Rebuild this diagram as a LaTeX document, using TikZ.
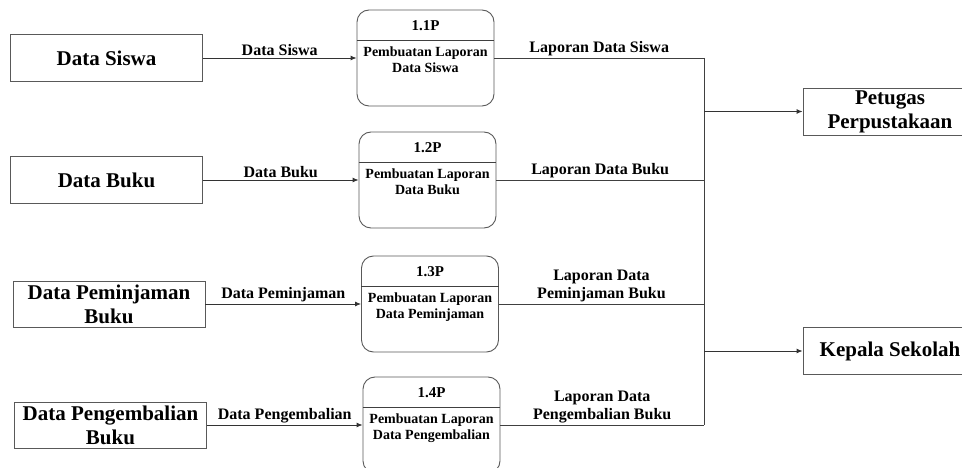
\documentclass[tikz,border=0pt]{standalone}
\usepackage{fontspec}
\setmainfont{Liberation Serif}
\usetikzlibrary{positioning,arrows.meta}

\begin{document}
\begin{tikzpicture}[x=1pt, y=-1pt, line width=0.9pt,
    entitas/.style={draw=black!65, rectangle, align=center, minimum width=192pt, minimum height=47pt, inner sep=2pt, font=\bfseries\fontsize{21}{24}\selectfont},
    proses/.style={draw=black!65, rounded corners=12pt, minimum width=137pt, minimum height=96pt},
    judul/.style={inner sep=1pt, font=\bfseries\fontsize{15}{17}\selectfont},
    isi/.style={align=center, inner sep=1pt, font=\bfseries\fontsize{14}{16}\selectfont},
    ket/.style={align=center, inner sep=2pt, font=\bfseries\fontsize{16}{18}\selectfont},
    alir/.style={draw=black!80, -{Latex[length=6pt,width=5pt]}},
    garis/.style={draw=black!75}]
        \useasboundingbox (0,0) rectangle (962,468);
        \clip (0,0) rectangle (962,468);

        % 1.1P
        \node[entitas] (E1) at (106.5,58) {Data Siswa};
        \node[proses] (P1) at (425.5,58) {};
        \node[judul] (T1) at ([yshift=-16pt]P1.north) {1.1P};
        \coordinate (D1) at ([yshift=-31pt]P1.north);
        \draw[garis] ([yshift=-31pt]P1.north west) -- ([yshift=-31pt]P1.north east);
        \node[isi, below=5pt of D1] (B1) {Pembuatan Laporan\\Data Siswa};
        \draw[alir] (E1) -- node[ket, above] {Data Siswa} (P1);
        \coordinate (J1) at (704,58);
        \draw[garis] (P1) -- node[ket, above] {Laporan Data Siswa} (J1);

        % 1.2P
        \node[entitas] (E2) at (106.5,180) {Data Buku};
        \node[proses] (P2) at (427.5,180) {};
        \node[judul] (T2) at ([yshift=-16pt]P2.north) {1.2P};
        \coordinate (D2) at ([yshift=-31pt]P2.north);
        \draw[garis] ([yshift=-31pt]P2.north west) -- ([yshift=-31pt]P2.north east);
        \node[isi, below=5pt of D2] (B2) {Pembuatan Laporan\\Data Buku};
        \draw[alir] (E2) -- node[ket, above] {Data Buku} (P2);
        \coordinate (J2) at (704,180);
        \draw[garis] (P2) -- node[ket, above] {Laporan Data Buku} (J2);

        % 1.3P
        \node[entitas, minimum height=46pt] (E3) at (109,304) {Data Peminjaman\\Buku};
        \node[proses] (P3) at (430,304) {};
        \node[judul] (T3) at ([yshift=-16pt]P3.north) {1.3P};
        \coordinate (D3) at ([yshift=-31pt]P3.north);
        \draw[garis] ([yshift=-31pt]P3.north west) -- ([yshift=-31pt]P3.north east);
        \node[isi, below=5pt of D3] (B3) {Pembuatan Laporan\\Data Peminjaman};
        \draw[alir] (E3) -- node[ket, above] {Data Peminjaman} (P3);
        \coordinate (J3) at (704,304);
        \draw[garis] (P3) -- node[ket, above] {Laporan Data\\Peminjaman Buku} (J3);

        % 1.4P
        \node[entitas, minimum height=46pt] (E4) at (110.5,425) {Data Pengembalian\\Buku};
        \node[proses] (P4) at (431.5,425) {};
        \node[judul] (T4) at ([yshift=-16pt]P4.north) {1.4P};
        \coordinate (D4) at ([yshift=-31pt]P4.north);
        \draw[garis] ([yshift=-31pt]P4.north west) -- ([yshift=-31pt]P4.north east);
        \node[isi, below=5pt of D4] (B4) {Pembuatan Laporan\\Data Pengembalian};
        \draw[alir] (E4) -- node[ket, above] {Data Pengembalian} (P4);
        \coordinate (J4) at (704,425);
        \draw[garis] (P4) -- node[ket, above] {Laporan Data\\Pengembalian Buku} (J4);

        % tujuan
        \draw[garis] (J1) -- (J4);
        \node[entitas, minimum width=174pt] (PP) at (890,111.5) {Petugas\\Perpustakaan};
        \node[entitas, minimum width=174pt] (KS) at (890,351) {Kepala Sekolah};
        \coordinate (K1) at (J1 |- PP.west);
        \coordinate (K2) at (J1 |- KS.west);
        \draw[alir] (K1) -- (PP);
        \draw[alir] (K2) -- (KS);
\end{tikzpicture}
\end{document}
